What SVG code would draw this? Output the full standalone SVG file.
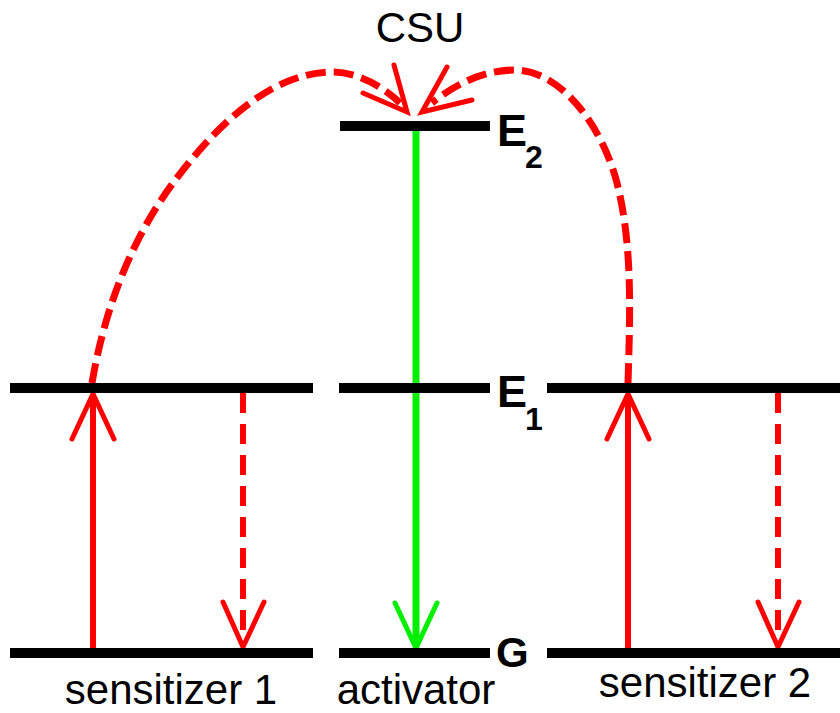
<svg xmlns="http://www.w3.org/2000/svg" width="840" height="713" viewBox="0 0 840 713">
<style>
.lvl{stroke:#000;stroke-width:10;fill:none}
.red{stroke:#ff0000;stroke-width:6;fill:none;stroke-linecap:butt}
.dash{stroke-width:7;stroke-dasharray:20 8}
.vdash{stroke-dasharray:20 11}
.head{fill:none;stroke-width:5;stroke-linecap:round;stroke-linejoin:miter}
.green{stroke:#00ee00;stroke-width:7;fill:none}
.lbl{font-family:"Liberation Sans",Arial,sans-serif;fill:#000}
.b{font-weight:bold}
</style>
<rect width="840" height="713" fill="#fff"/>
<g id="connectors">
  <path class="red dash" d="M92,383 C104,312 130,241 173,183 C212,131 268,72 333,72 C358,72 385,88 400,103"/>
  <path class="red dash" d="M628,383 C630,316 633,246 617,183 C602,125 560,70 515,70 C480,70 450,88 432,103"/>
  <polyline class="head" stroke="#ff0000" points="394,65 407,112 363,93"/>
  <polyline class="head" stroke="#ff0000" points="447,67 422,112 472,100"/>
  <line class="green" x1="416" y1="131" x2="416" y2="646"/>
  <polyline class="head" stroke="#00ee00" points="395,603 416,648 437,603"/>
  <line class="red" x1="93" y1="648" x2="93" y2="396"/>
  <polyline class="head" stroke="#ff0000" points="72,439 93,394 114,439"/>
  <line class="red vdash" x1="243" y1="393" x2="243" y2="644"/>
  <polyline class="head" stroke="#ff0000" points="223,602 243,647 264,602"/>
  <line class="red" x1="628" y1="648" x2="628" y2="396"/>
  <polyline class="head" stroke="#ff0000" points="607,439 628,394 649,439"/>
  <line class="red vdash" x1="778" y1="393" x2="778" y2="644"/>
  <polyline class="head" stroke="#ff0000" points="758,602 778,647 799,602"/>
</g>
<g id="E2"><line class="lvl" x1="340" y1="126" x2="490" y2="126"/><text class="lbl b" x="497" y="146" font-size="45">E</text><text class="lbl b" x="525" y="168" font-size="32">2</text></g>
<g id="E1-s1"><line class="lvl" x1="10" y1="388" x2="313" y2="388"/></g>
<g id="E1-act"><line class="lvl" x1="339" y1="388" x2="490" y2="388"/><text class="lbl b" x="497" y="407" font-size="45">E</text><text class="lbl b" x="525" y="430" font-size="32">1</text></g>
<g id="E1-s2"><line class="lvl" x1="547" y1="388" x2="840" y2="388"/></g>
<g id="G-s1"><line class="lvl" x1="10" y1="653" x2="313" y2="653"/><text class="lbl" x="171" y="704" font-size="42" text-anchor="middle">sensitizer 1</text></g>
<g id="G-act"><line class="lvl" x1="339" y1="653" x2="490" y2="653"/><text class="lbl b" x="496" y="667" font-size="42">G</text><text class="lbl" x="416" y="704" font-size="42" text-anchor="middle">activator</text></g>
<g id="G-s2"><line class="lvl" x1="547" y1="653" x2="840" y2="653"/><text class="lbl" x="705" y="697" font-size="42" text-anchor="middle">sensitizer 2</text></g>
<g id="CSU"><text class="lbl" x="420" y="42" font-size="42" text-anchor="middle">CSU</text></g>
</svg>
